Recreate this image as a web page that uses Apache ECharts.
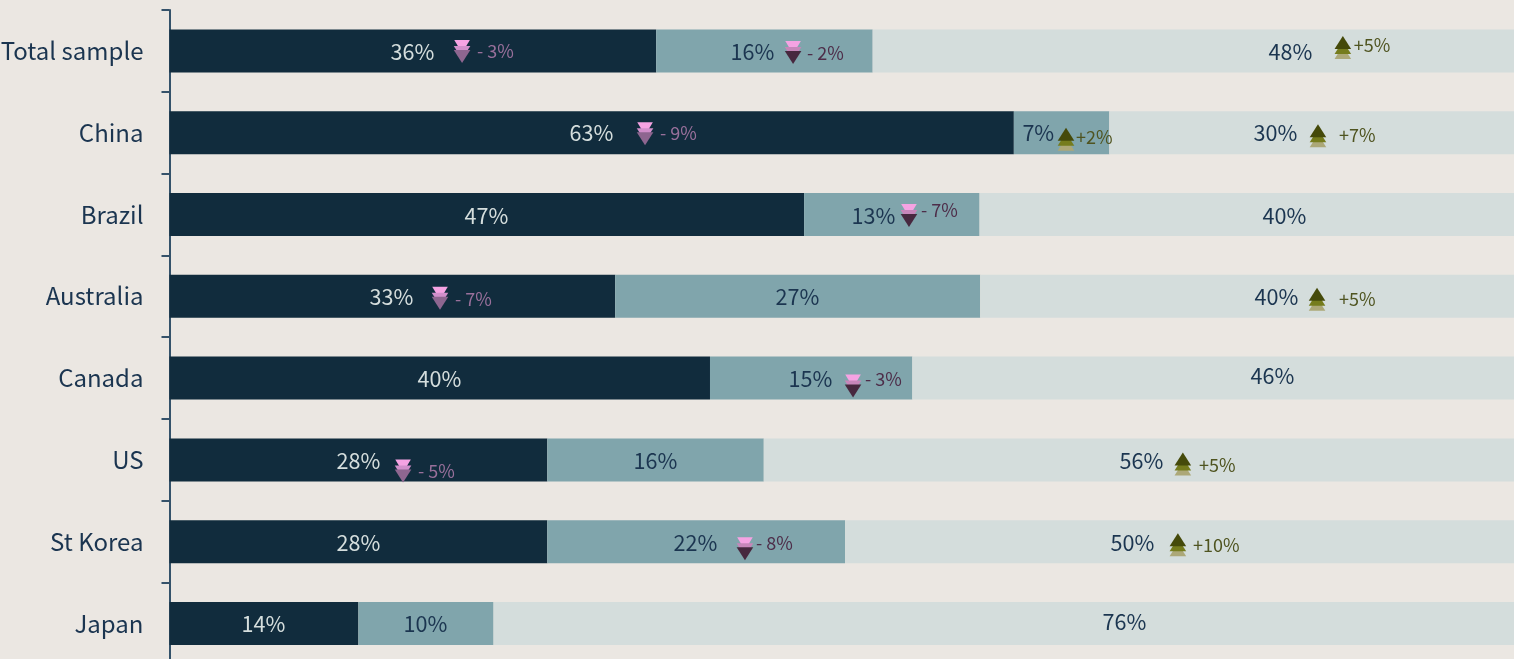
<!DOCTYPE html>
<html><head><meta charset="utf-8">
<style>html,body{margin:0;padding:0;background:#ebe7e2;overflow:hidden}#c{width:1514px;height:659px}</style>
<script src="https://cdn.jsdelivr.net/npm/echarts@6/dist/echarts.min.js"></script>
</head><body><div id="c"></div>
<script>
const categories = ['Total sample','China','Brazil','Australia','Canada','US','St Korea','Japan'];
const seriesDark  = [36.2,62.8,47.2,33.15,40.2,28.1,28.1,14.05];
const seriesMid   = [16.1,7.1,13.05,27.15,15.05,16.1,22.15,10.05];
const seriesLight = [47.7,30.1,39.75,39.7,44.75,55.8,49.75,75.9];

const labelsDark  = ['36%','63%','47%','33%','40%','28%','28%','14%'];
const labelsMid   = ['16%','7%','13%','27%','15%','16%','22%','10%'];
const labelsLight = ['48%','30%','40%','40%','46%','56%','50%','76%'];
// label centre along the axis, for each row
const labelXDark  = [18.07,31.38,23.57,16.5,20.07,14.05,14.05,6.98];
const labelXMid   = [43.35,64.62,52.35,46.7,47.67,36.14,39.12,19.03];
const labelXLight = [83.37,82.25,82.92,82.33,82.03,72.29,71.62,71.02];
const labelDyLight = [0.5,0.5,1,0.5,-2.5,1,1,-1.5];
const labelDyOther = [0.5,0.5,1,0.5,0.5,1,1,0.5];

// row, marker x, marker y offset, text x, text y offset, text, segment
const deltas = [
 [0,21.76,1,22.87,0,'- 3%','dark'],
 [0,46.38,2,47.42,2,'- 2%','mid'],
 [0,87.27,-3.5,88.09,-6,'+5%','light'],
 [1,35.37,1.5,36.48,0.5,'- 9%','dark'],
 [1,66.68,6.5,67.42,4.5,'+2%','light'],
 [1,85.42,3,86.98,2.5,'+7%','light'],
 [2,55.00,1.5,55.89,-4.5,'- 7%','mid'],
 [3,20.12,2.5,21.23,2.5,'- 7%','dark'],
 [3,85.35,3,86.98,2.5,'+5%','light'],
 [4,50.84,8.5,51.73,1.5,'- 3%','mid'],
 [5,17.37,11.5,18.48,11.5,'- 5%','dark'],
 [5,75.37,4,76.57,5.5,'+5%','light'],
 [6,42.80,7.5,43.62,1.5,'- 8%','mid'],
 [6,75.00,3,76.13,3.5,'+10%','light']
];

const FONT = '"Noto Sans CJK SC","Noto Sans",sans-serif';
const markerStyles = {
  dark:  {layers:['#f5a3e3','#d18fcb','#8e6690'], text:'#99709b'},
  mid:   {layers:['#f5a3e3','#c786ba','#47283f'], text:'#4d2d49'},
  light: {layers:['#aca878','#757c1d','#454a0a'], text:'#4f5420'}
};
const textLight = '#d5dedd', textDark = '#1b3550';

function triangle(cx, apexY, dir, fill, w){
  const h = 13 * dir;
  return {type:'polygon', shape:{points:[[cx,apexY],[cx-w,apexY+h],[cx+w,apexY+h]]},
          style:{fill:fill, stroke:'none'}, silent:true};
}

const valueTexts = [];
categories.forEach((c,i)=>{
  valueTexts.push([labelXDark[i],i,labelDyOther[i],labelsDark[i],textLight]);
  valueTexts.push([labelXMid[i],i,labelDyOther[i],labelsMid[i],textDark]);
  valueTexts.push([labelXLight[i],i,labelDyLight[i],labelsLight[i],textDark]);
});

const chart = echarts.init(document.getElementById('c'),null,{renderer:'canvas'});
chart.setOption({
  animation:false,
  backgroundColor:'#ebe7e2',
  grid:{left:169.5,right:0,top:10,height:654.4,containLabel:false,outerBoundsMode:'none'},
  xAxis:{type:'value',min:0,max:100,show:false},
  yAxis:{type:'category',inverse:true,data:categories,
    axisLine:{show:true,lineStyle:{color:'#34526a',width:2}},
    axisTick:{show:true,length:8,lineStyle:{color:'#34526a',width:2}},
    axisLabel:{fontFamily:FONT,fontSize:24,color:textDark,margin:26,padding:[0,0,4,0]}},
  series:[
    {type:'bar',stack:'a',barWidth:43,data:seriesDark,itemStyle:{color:'#112c3d'}},
    {type:'bar',stack:'a',barWidth:43,data:seriesMid,itemStyle:{color:'#80a5ac'}},
    {type:'bar',stack:'a',barWidth:43,data:seriesLight,itemStyle:{color:'#d4dddc'}},
    {type:'custom',clip:false,silent:true,z:5,data:valueTexts,encode:{x:0,y:1},
      renderItem:(p,api)=>{
        const d = valueTexts[p.dataIndex];
        const pt = api.coord([d[0],d[1]]);
        return {type:'text',style:{x:pt[0],y:pt[1]+d[2],text:d[3],fill:d[4],font:'21.6px '+FONT,align:'center',verticalAlign:'middle'}};
      }},
    {type:'custom',clip:false,silent:true,z:6,data:deltas.map(d=>[d[1],d[0]]),encode:{x:0,y:1},
      renderItem:(p,api)=>{
        const d = deltas[p.dataIndex];
        const m = api.coord([d[1],d[0]]);
        const tp = api.coord([d[3],d[0]]);
        const st = markerStyles[d[6]];
        const cy = m[1]+d[2];
        const up = d[5][0]==='+';
        const kids = up
          ? [triangle(m[0],cy-1.5,1,st.layers[0],8.3),triangle(m[0],cy-6.5,1,st.layers[1],8.3),triangle(m[0],cy-11.5,1,st.layers[2],8.3)]
          : [triangle(m[0],cy+1,-1,st.layers[0],7.8),triangle(m[0],cy+7,-1,st.layers[1],8.3),triangle(m[0],cy+11,-1,st.layers[2],8.3)];
        kids.push({type:'text',style:{x:tp[0],y:tp[1]+d[4],text:d[5],fill:st.text,font:'18px '+FONT,align:'left',verticalAlign:'middle'}});
        return {type:'group',children:kids};
      }}
  ]
});
</script></body></html>
